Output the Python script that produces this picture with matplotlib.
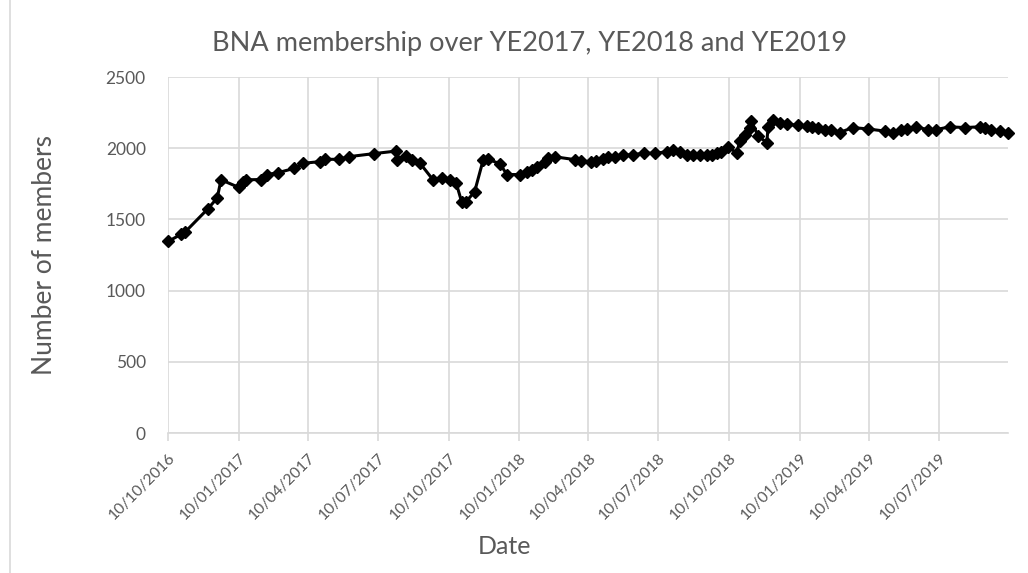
import matplotlib
matplotlib.use("Agg")
from matplotlib import pyplot as plt
import matplotlib.dates as mdates
from matplotlib.lines import Line2D
import numpy as np
import pandas as pd

plt.rcParams['font.family'] = ['Lato', 'DejaVu Sans']

# Data (dd/mm/yyyy axis, values = members)
dates = ["2016-10-10", "2016-10-27", "2016-11-01", "2016-12-01", "2016-12-13", "2016-12-18",
         "2017-01-10", "2017-01-16", "2017-01-19", "2017-02-08", "2017-02-16", "2017-03-02",
         "2017-03-23", "2017-04-04", "2017-04-26", "2017-05-02", "2017-05-21", "2017-06-03",
         "2017-07-05", "2017-08-03", "2017-08-04", "2017-08-16", "2017-08-23", "2017-09-03",
         "2017-09-20", "2017-10-01", "2017-10-12", "2017-10-20", "2017-10-27", "2017-11-02",
         "2017-11-13", "2017-11-24", "2017-12-01", "2017-12-16", "2017-12-25", "2018-01-11",
         "2018-01-20", "2018-01-26", "2018-02-02", "2018-02-12", "2018-02-17", "2018-02-25",
         "2018-03-23", "2018-04-01", "2018-04-14", "2018-04-20", "2018-04-29", "2018-05-05",
         "2018-05-14", "2018-05-25", "2018-06-07", "2018-06-22", "2018-07-06", "2018-07-21",
         "2018-07-29", "2018-08-07", "2018-08-16", "2018-08-24", "2018-09-02", "2018-09-11",
         "2018-09-18", "2018-09-24", "2018-09-30", "2018-10-09", "2018-10-20", "2018-10-24",
         "2018-10-31", "2018-11-06", "2018-11-08", "2018-11-17", "2018-11-28", "2018-11-30",
         "2018-12-06", "2018-12-15", "2018-12-24", "2019-01-08", "2019-01-19", "2019-01-26",
         "2019-02-03", "2019-02-12", "2019-02-20", "2019-03-03", "2019-03-20", "2019-04-09",
         "2019-05-01", "2019-05-12", "2019-05-22", "2019-05-29", "2019-06-10", "2019-06-26",
         "2019-07-06", "2019-07-24", "2019-08-13", "2019-09-01", "2019-09-08", "2019-09-16",
         "2019-09-27", "2019-10-08"]
members = [1345, 1395, 1410, 1575, 1650, 1778,
           1725, 1765, 1778, 1780, 1815, 1828,
           1858, 1894, 1906, 1922, 1922, 1941,
           1962, 1980, 1915, 1945, 1917, 1894,
           1777, 1790, 1780, 1755, 1625, 1625,
           1695, 1915, 1922, 1890, 1815, 1815,
           1835, 1850, 1870, 1905, 1930, 1940,
           1920, 1910, 1905, 1910, 1925, 1940,
           1940, 1950, 1955, 1965, 1965, 1975,
           1985, 1970, 1955, 1955, 1950, 1950,
           1955, 1965, 1970, 2010, 1965, 2050,
           2095, 2140, 2190, 2085, 2040, 2150,
           2200, 2180, 2170, 2160, 2155, 2150,
           2145, 2125, 2125, 2110, 2145, 2135,
           2120, 2110, 2125, 2135, 2150, 2130,
           2130, 2150, 2145, 2150, 2140, 2130,
           2120, 2105]

tick_dates = ["2016-10-10", "2017-01-10", "2017-04-10", "2017-07-10", "2017-10-10",
              "2018-01-10", "2018-04-10", "2018-07-10", "2018-10-10", "2019-01-10",
              "2019-04-10", "2019-07-10"]
y_ticks = [0, 500, 1000, 1500, 2000, 2500]

x = pd.to_datetime(dates)
xt = pd.to_datetime(tick_dates)

grey = '#595959'
grid = '#d9d9d9'
W, H = 1028, 573

fig = plt.figure(figsize=(10.28, 5.73), dpi=100)
ax = fig.add_axes([168 / W, 1 - 433 / H, 840 / W, 356 / H])

ax.plot(x, members, color='black', linewidth=2.2, marker='D', markersize=6.5,
        markerfacecolor='black', markeredgecolor='black', zorder=3, clip_on=False)

ax.set_xlim(x[0], x[-1])
ax.set_ylim(0, 2500)
ax.set_yticks(y_ticks)
ax.set_xticks(xt)
ax.xaxis.set_major_formatter(mdates.DateFormatter('%d/%m/%Y'))

ax.grid(True, color=grid, linewidth=1.2, zorder=0)
for s in ['top', 'right', 'left']:
    ax.spines[s].set_visible(False)
ax.spines['bottom'].set_color(grid)
ax.spines['bottom'].set_linewidth(1.2)

ax.tick_params(axis='y', length=0, pad=16, labelsize=12.5, labelcolor=grey)
ax.tick_params(axis='x', length=6, width=1.2, color=grid, pad=7, labelsize=11.3, labelcolor=grey)
for lab in ax.get_xticklabels():
    lab.set_rotation(45)
    lab.set_ha('right')
    lab.set_rotation_mode('anchor')

fig.text(530 / W, 1 - 43 / H, 'BNA membership over YE2017, YE2018 and YE2019',
         fontsize=19.5, color=grey, ha='center', va='center')
fig.text(45 / W, 1 - 255 / H, 'Number of members', fontsize=19, color=grey,
         rotation=90, ha='center', va='center')
fig.text(505 / W, 1 - 546 / H, 'Date', fontsize=18, color=grey, ha='center', va='center')

# chart border on the left edge
fig.add_artist(Line2D([10 / W, 10 / W], [0, 1], color=grid, linewidth=1.2))

fig.savefig('out.png', dpi=100, facecolor='white')
